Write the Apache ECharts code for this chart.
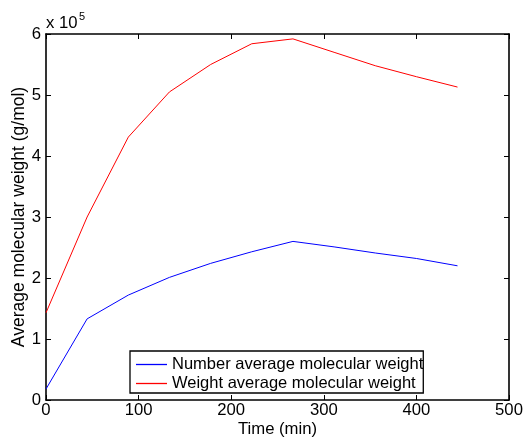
<!DOCTYPE html>
<html><head><meta charset="utf-8">
<script src="https://cdn.jsdelivr.net/npm/echarts@6/dist/echarts.min.js"></script>
<style>html,body{margin:0;padding:0;background:#fff}#c{width:524px;height:439px}</style>
</head><body><div id="c"></div>
<script>
const times = [0, 44.4, 88.9, 133.3, 177.8, 222.2, 266.7, 311.1, 355.6, 400, 444.4];
const numberAvg = [0.18, 1.33, 1.72, 2.01, 2.24, 2.43, 2.60, 2.51, 2.41, 2.32, 2.20];
const weightAvg = [1.43, 3.00, 4.31, 5.05, 5.50, 5.84, 5.92, 5.70, 5.48, 5.30, 5.13];
const seriesNames = ['Number average molecular weight', 'Weight average molecular weight'];
const xTicks = [0, 100, 200, 300, 400, 500];
const yTicks = [0, 1, 2, 3, 4, 5, 6];

const font = 'Liberation Sans, Arial, sans-serif';
const fs = 16.7;
const chart = echarts.init(document.getElementById('c'));
const axisCommon = {
  axisLine: {show: true, onZero: false, lineStyle: {color: '#000', width: 1.6}},
  axisTick: {show: true, inside: true, length: 5, lineStyle: {color: '#000', width: 1}},
  splitLine: {show: false}
};
chart.setOption({
  animation: false,
  grid: {left: 46, right: 15, top: 34, bottom: 39, containLabel: false, outerBoundsMode: 'none'},
  legend: {
    orient: 'vertical', left: 130, top: 351,
    backgroundColor: '#fff', borderColor: '#000', borderWidth: 1.3,
    padding: [5, 0, 1, 6], itemGap: 2, itemWidth: 31, itemHeight: 1.3,
    icon: 'rect',
    textStyle: {fontFamily: font, fontSize: 16.5, color: '#000', lineHeight: 17},
    data: seriesNames
  },
  xAxis: [
    Object.assign({type: 'value', min: xTicks[0], max: xTicks[xTicks.length-1], interval: 100,
      name: 'Time (min)', nameLocation: 'middle', nameGap: 21, nameMoveOverlap: false,
      nameTextStyle: {fontFamily: font, fontSize: fs, color: '#000'},
      axisLabel: {fontFamily: font, fontSize: fs, color: '#000', margin: 2}}, axisCommon),
    Object.assign({type: 'value', position: 'top', min: 0, max: 500, interval: 100,
      axisLabel: {show: false}}, axisCommon)
  ],
  yAxis: [
    Object.assign({type: 'value', min: yTicks[0], max: yTicks[yTicks.length-1], interval: 1,
      name: 'Average molecular weight (g/mol)', nameLocation: 'middle', nameGap: 18, nameMoveOverlap: false,
      nameTextStyle: {fontFamily: font, fontSize: 17.5, color: '#000'},
      axisLabel: {fontFamily: font, fontSize: fs, color: '#000', margin: 5}}, axisCommon),
    Object.assign({type: 'value', position: 'right', min: 0, max: 6, interval: 1,
      axisLabel: {show: false}}, axisCommon)
  ],
  graphic: [{
    type: 'text', left: 46, top: 15,
    style: {text: 'x 10', font: fs + 'px ' + font, fill: '#000'}
  }, {
    type: 'text', left: 79, top: 11,
    style: {text: '5', font: '11px ' + font, fill: '#000'}
  }],
  series: [
    {name: seriesNames[0], type: 'line', symbol: 'none', color: '#0000ff',
     lineStyle: {width: 1, color: '#0000ff'}, data: times.map((t, i) => [t, numberAvg[i]])},
    {name: seriesNames[1], type: 'line', symbol: 'none', color: '#ff0000',
     lineStyle: {width: 1, color: '#ff0000'}, data: times.map((t, i) => [t, weightAvg[i]])}
  ]
});
</script></body></html>
